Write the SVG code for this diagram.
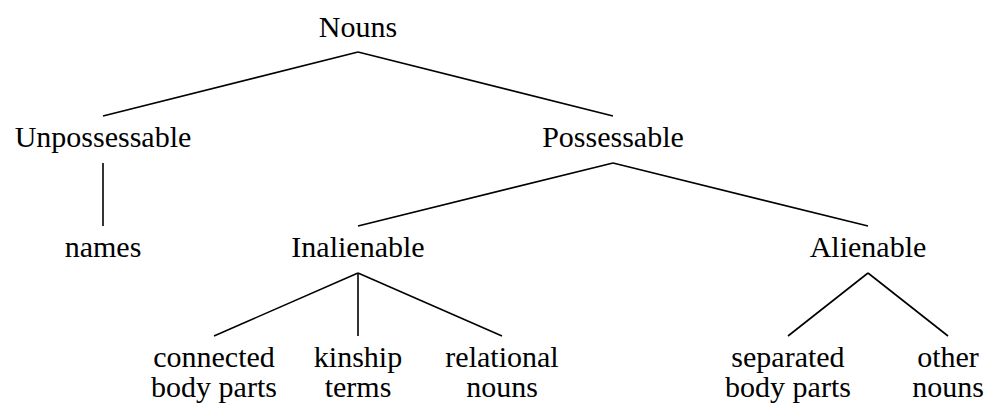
<svg xmlns="http://www.w3.org/2000/svg" width="988" height="406" viewBox="0 0 988 406">
<style>
text{font-family:"Liberation Serif","DejaVu Serif",serif;font-size:30px;fill:#000;text-anchor:middle}
.e line{stroke:#000;stroke-width:1.6;stroke-linecap:butt}
</style>
<rect width="988" height="406" fill="#fff"/>
<g class="e" id="connectors">
<line x1="358" y1="52" x2="103" y2="116"/>
<line x1="358" y1="52" x2="613" y2="116"/>
<line x1="103" y1="163" x2="103" y2="226"/>
<line x1="613" y1="163" x2="358" y2="226"/>
<line x1="613" y1="163" x2="868" y2="226"/>
<line x1="358" y1="273" x2="214" y2="336"/>
<line x1="358" y1="273" x2="358" y2="336"/>
<line x1="358" y1="273" x2="502" y2="336"/>
<line x1="868" y1="273" x2="788" y2="336"/>
<line x1="868" y1="273" x2="948" y2="336"/>
</g>
<g id="nouns"><text x="358" y="37">Nouns</text></g>
<g id="unpossessable"><text x="103" y="147">Unpossessable</text></g>
<g id="possessable"><text x="613" y="147">Possessable</text></g>
<g id="names"><text x="103" y="257">names</text></g>
<g id="inalienable"><text x="358" y="257">Inalienable</text></g>
<g id="alienable"><text x="868" y="257">Alienable</text></g>
<g id="connected"><text x="214" y="367">connected</text><text x="214" y="397">body parts</text></g>
<g id="kinship"><text x="358" y="367">kinship</text><text x="358" y="397">terms</text></g>
<g id="relational"><text x="502" y="367">relational</text><text x="502" y="397">nouns</text></g>
<g id="separated"><text x="788" y="367">separated</text><text x="788" y="397">body parts</text></g>
<g id="other"><text x="948" y="367">other</text><text x="948" y="397">nouns</text></g>
</svg>
